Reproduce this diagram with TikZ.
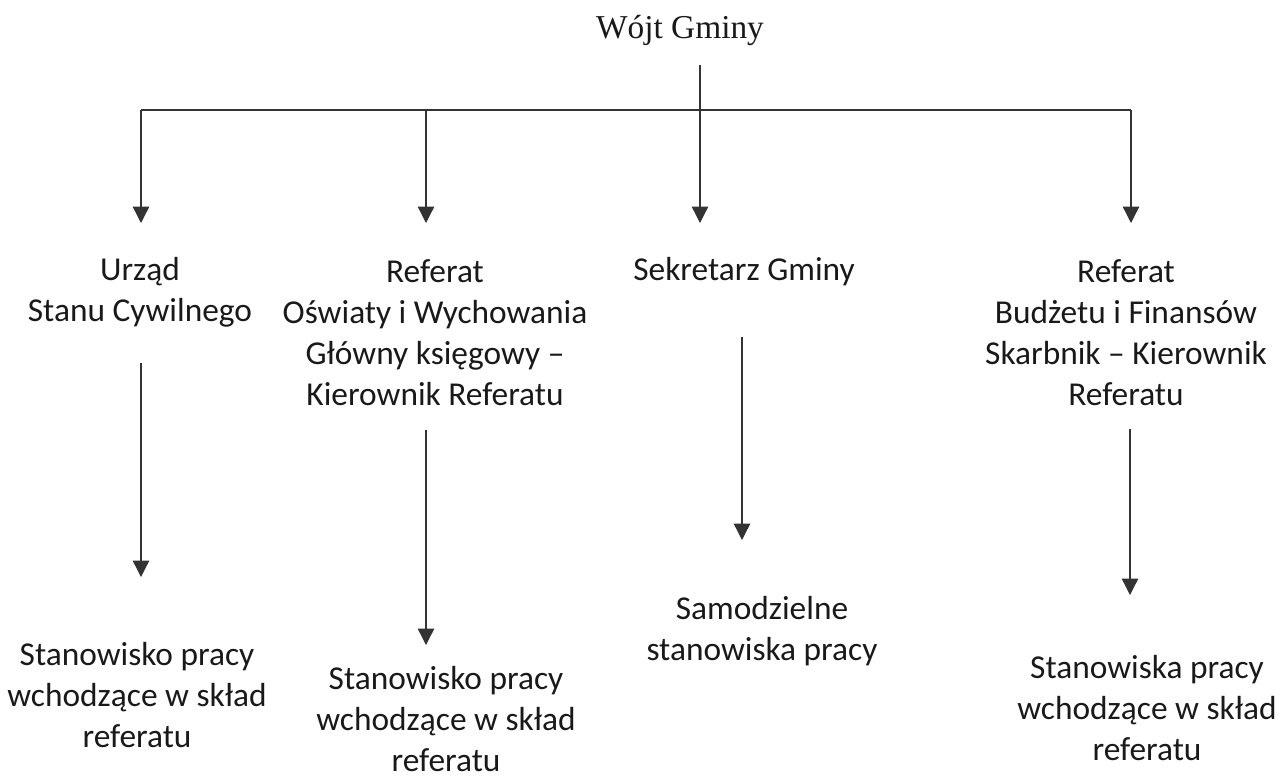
\documentclass[tikz,border=0pt]{standalone}
\usepackage{fontspec}
\setmainfont{Carlito}
\newfontfamily\timesfont{Liberation Serif}
\usetikzlibrary{arrows.meta,positioning}

\begin{document}
\begin{tikzpicture}[
    x=0.02cm, y=-0.02cm,
    >={Triangle[width=3.3mm,length=3.3mm]},
    head/.style={inner sep=0pt, text=black!90, font=\timesfont\fontsize{19}{22}\selectfont},
    unit/.style={align=center, inner sep=0pt, text=black!90, font=\fontsize{19}{23.3}\selectfont},
    line/.style={draw=black!80, line width=0.75pt},
    arrow/.style={line, ->}
]
\useasboundingbox (0,0) rectangle (1282,779);

% Head of the office.
\node[head] (wojt) at (680,30) {Wójt Gminy};

% Second level units.
\node[unit] (usc) at (140,292) {Urząd\\Stanu Cywilnego};
\node[unit] (oswiata) at (435,333) {Referat\\Oświaty i Wychowania\\Główny księgowy --\\Kierownik Referatu};
\node[unit] (sekretarz) at (744,272) {Sekretarz Gminy};
\node[unit] (budzet) at (1126,333) {Referat\\Budżetu i Finansów\\Skarbnik -- Kierownik\\Referatu};

% Posts below each unit.
\node[unit] (usc-st) at (137,695) {Stanowisko pracy\\wchodzące w skład\\referatu};
\node[unit] (oswiata-st) at (446,719) {Stanowisko pracy\\wchodzące w skład\\referatu};
\node[unit] (sekretarz-st) at (762,631) {Samodzielne\\stanowiska pracy};
\node[unit] (budzet-st) at (1147,708) {Stanowiska pracy\\wchodzące w skład\\referatu};

% Branching bus under the head.
\coordinate (wojt-out) at (700,65);
\coordinate (bus) at (700,110);
\coordinate (usc-in) at (141,223);
\coordinate (oswiata-in) at (426,223);
\coordinate (sekretarz-in) at (700,223);
\coordinate (budzet-in) at (1131,223);

\draw[line] (wojt-out) -- (bus);
\draw[line] (usc-in |- bus) -- (budzet-in |- bus);
\draw[arrow] (usc-in |- bus) -- (usc-in);
\draw[arrow] (oswiata-in |- bus) -- (oswiata-in);
\draw[arrow] (bus) -- (sekretarz-in);
\draw[arrow] (budzet-in |- bus) -- (budzet-in);

% Arrows from units down to their posts.
\coordinate (usc-out) at (141,363);
\coordinate (usc-st-in) at (141,577);
\coordinate (oswiata-out) at (426,430);
\coordinate (oswiata-st-in) at (426,645);
\coordinate (sekretarz-out) at (742,337);
\coordinate (sekretarz-st-in) at (742,540);
\coordinate (budzet-out) at (1130,429);
\coordinate (budzet-st-in) at (1130,595);

\draw[arrow] (usc-out) -- (usc-st-in);
\draw[arrow] (oswiata-out) -- (oswiata-st-in);
\draw[arrow] (sekretarz-out) -- (sekretarz-st-in);
\draw[arrow] (budzet-out) -- (budzet-st-in);

\end{tikzpicture}
\end{document}
